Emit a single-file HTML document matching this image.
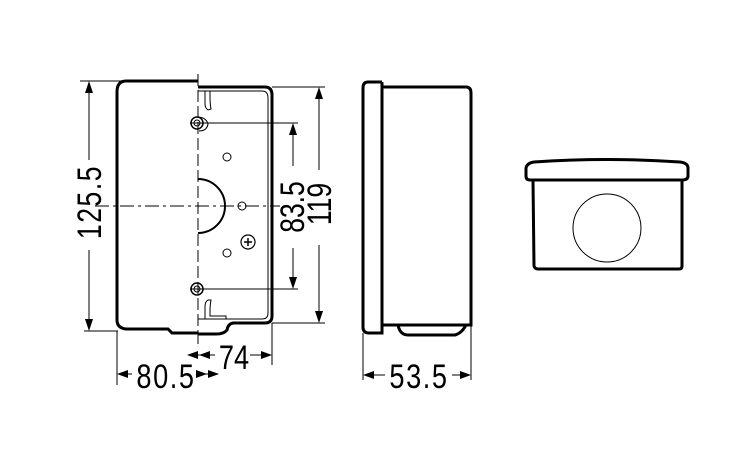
<!DOCTYPE html>
<html><head><meta charset="utf-8"><style>
html,body{margin:0;padding:0;background:#fff;width:750px;height:450px;overflow:hidden}
text{font-family:"Liberation Sans",sans-serif;font-size:34px;fill:#000}
</style></head><body>
<svg width="750" height="450" viewBox="0 0 750 450" xmlns="http://www.w3.org/2000/svg">
<g fill="none" stroke="#000">
<path d="M198 81 H126 Q117 81 117 92 V320 Q117 328 126 329 H168 L172 333 H198" stroke-width="3"/>
<path d="M198 87 H265 Q272 87 272 95 V316 Q272 323 265 323 H233 Q228 324 227 330 Q224 334 216 334 H198" stroke-width="3"/>
<path d="M198 91 H262 Q268 91 268 98 V313 Q268 319 262 319 H198" stroke-width="1"/>
<path d="M205 91 V104 Q205 108 208 110 L211 109 Q210 104 210 96 V91" stroke-width="1"/>
<path d="M205 319 V306 Q205 302 208 300 L211 300 Q210 305 210 312 V316 H226 V319" stroke-width="1"/>
<line x1="198" y1="74" x2="198" y2="340" stroke-width="1" stroke-dasharray="12,4"/>
<line x1="95" y1="206" x2="280" y2="206" stroke-width="1" stroke-dasharray="14,4,3,4"/>
<path d="M198 179 A27 27 0 0 1 198 233" stroke-width="2"/>
<circle cx="197" cy="123" r="6" stroke-width="1.5"/><circle cx="197" cy="123" r="3" stroke-width="1"/>
<path d="M197 117 Q206 117 208 124 Q207 131 199 131" stroke-width="1"/>
<circle cx="197" cy="289" r="6" stroke-width="1.5"/><circle cx="197" cy="289" r="3" stroke-width="1"/>
<circle cx="227" cy="157" r="4" stroke-width="1"/>
<circle cx="242" cy="206" r="4" stroke-width="1"/>
<circle cx="227" cy="253" r="4" stroke-width="1"/>
<circle cx="248" cy="242" r="7" stroke-width="1.2"/>
<path d="M248 238 V246 M244 242 H252" stroke-width="1.5"/>
<g stroke-width="1">
<line x1="80" y1="81" x2="125" y2="81"/><line x1="84" y1="331" x2="118" y2="331"/>
<line x1="89" y1="83" x2="89" y2="160"/><line x1="89" y1="250" x2="89" y2="329"/>
<line x1="190" y1="123" x2="298" y2="123"/><line x1="190" y1="289" x2="298" y2="289"/>
<line x1="293" y1="125" x2="293" y2="166"/><line x1="293" y1="248" x2="293" y2="287"/>
<line x1="272" y1="87" x2="325" y2="87"/><line x1="272" y1="323" x2="325" y2="323"/>
<line x1="319" y1="89" x2="319" y2="170"/><line x1="319" y1="245" x2="319" y2="321"/>
<line x1="117" y1="331" x2="117" y2="385"/><line x1="272" y1="323" x2="272" y2="365"/>
<line x1="198" y1="340" x2="198" y2="344"/>
<line x1="188" y1="355" x2="215" y2="355"/><line x1="250" y1="355" x2="270" y2="355"/>
<line x1="119" y1="374" x2="132" y2="374"/><line x1="198" y1="374" x2="218" y2="374"/>
<line x1="363" y1="333" x2="363" y2="380"/><line x1="471" y1="325" x2="471" y2="380"/>
<line x1="365" y1="375" x2="385" y2="375"/><line x1="452" y1="375" x2="469" y2="375"/>
</g>
</g>
<g fill="#000">
<path d="M89 81 l-4 12 h8z M89 331 l-4 -12 h8z"/>
<path d="M293 123 l-4 12 h8z M293 289 l-4 -12 h8z"/>
<path d="M319 87 l-4 12 h8z M319 323 l-4 -12 h8z"/>
<path d="M187 355 l11 -4 v8z M199 355 l11 -4 v8z M272 355 l-11 -4 v8z"/>
<path d="M117 374 l11 -4 v8z M207 374 l-11 -4 v8z M219 374 l-11 -4 v8z"/>
<path d="M363 375 l11 -4 v8z M471 375 l-11 -4 v8z"/>
</g>
<g fill="none" stroke="#000" stroke-width="3">
<path d="M382 82 H368 Q363 82 363 88 V327 Q363 333 369 333 H382 V325"/>
<path d="M382 82 V87 H466 Q471 87 471 93 V325 H382 V82"/>
<path d="M398 325 Q400 335 408 335 H455 Q462 333 466 325"/>
<path d="M533 180 H530 Q526 180 526 176 V168 Q527 163 534 162 Q607 157 680 162 Q688 163 688 168 V176 Q688 180 682 180 Z"/>
<path d="M533 180 L534 266 Q535 269 538 269 H679 Q682 269 682 266 V180"/>
</g>
<circle cx="607" cy="228" r="34" fill="none" stroke="#000" stroke-width="1"/>
<text transform="translate(101 202) rotate(-90) scale(0.78 1)" text-anchor="middle" letter-spacing="2">125.5</text>
<text transform="translate(304 207) rotate(-90) scale(0.78 1)" text-anchor="middle">83.5</text>
<text transform="translate(331 204) rotate(-90) scale(0.78 1)" text-anchor="middle">119</text>
<text transform="translate(234 369) scale(0.8 1)" text-anchor="middle">74</text>
<text transform="translate(166 388) scale(0.8 1)" text-anchor="middle" letter-spacing="2">80.5</text>
<text transform="translate(419 388) scale(0.8 1)" text-anchor="middle" letter-spacing="2">53.5</text>
</svg>
</body></html>
